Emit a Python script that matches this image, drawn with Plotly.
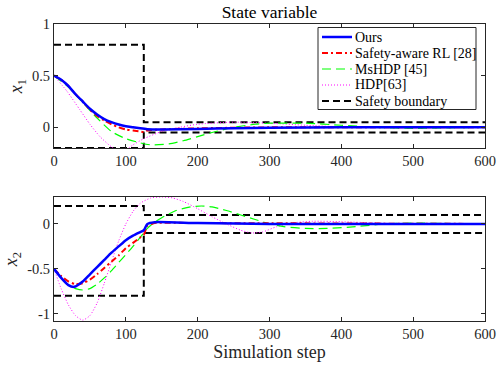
import plotly.graph_objects as go
from plotly.subplots import make_subplots

# --- x1 (top panel) ---
ours_t1 = [0, 10, 20, 30, 40, 50, 60, 70, 80, 90, 100, 110, 120, 130, 150, 200, 250, 300, 400, 600]
ours_x1 = [0.5, 0.46, 0.40, 0.32, 0.25, 0.18, 0.125, 0.08, 0.05, 0.027, 0.01, 0.0, -0.01, -0.018, -0.02, -0.015, -0.01, -0.005, 0.0, 0.0]

rl_t1 = [0, 10, 20, 30, 40, 50, 60, 70, 80, 90, 100, 110, 120, 125, 130, 150, 200, 300, 600]
rl_x1 = [0.5, 0.46, 0.40, 0.32, 0.25, 0.17, 0.11, 0.065, 0.03, 0.0, -0.02, -0.03, -0.04, -0.045, -0.03, -0.02, -0.01, 0.0, 0.0]

ms_t1 = [0, 20, 40, 60, 80, 100, 120, 135, 160, 180, 200, 220, 250, 280, 300, 350, 400, 450, 500, 550, 600]
ms_x1 = [0.5, 0.39, 0.24, 0.09, -0.04, -0.11, -0.15, -0.17, -0.16, -0.13, -0.09, -0.05, 0.0, 0.03, 0.04, 0.04, 0.02, 0.0, -0.01, -0.005, 0.0]

hdp_t1 = [0, 18, 36, 50, 64, 80, 90, 100, 110, 125, 150, 175, 200, 250, 300, 350, 400, 500, 600]
hdp_x1 = [0.5, 0.35, 0.17, 0.03, -0.09, -0.19, -0.23, -0.22, -0.17, -0.11, -0.04, 0.0, 0.03, 0.05, 0.04, 0.02, 0.005, 0.0, 0.0]

# --- x2 (bottom panel) ---
ours_t2 = [0, 10, 20, 28, 40, 50, 60, 70, 80, 90, 100, 110, 120, 125, 130, 140, 200, 300, 600]
ours_x2 = [-0.5, -0.6, -0.68, -0.70, -0.64, -0.56, -0.48, -0.40, -0.32, -0.25, -0.18, -0.13, -0.09, -0.07, 0.0, 0.02, 0.01, 0.0, 0.0]

rl_t2 = [0, 10, 20, 30, 40, 50, 60, 70, 80, 90, 100, 110, 120, 125, 130, 140, 200, 600]
rl_x2 = [-0.5, -0.58, -0.64, -0.67, -0.66, -0.62, -0.56, -0.49, -0.42, -0.35, -0.27, -0.21, -0.15, -0.12, -0.02, 0.01, 0.01, 0.0]

ms_t2 = [0, 10, 20, 30, 40, 50, 60, 70, 80, 90, 100, 110, 120, 130, 140, 150, 170, 190, 205, 220, 240, 260, 280, 300, 320, 350, 380, 420, 460, 500, 550, 600]
ms_x2 = [-0.5, -0.6, -0.68, -0.72, -0.735, -0.72, -0.67, -0.6, -0.52, -0.43, -0.34, -0.25, -0.15, -0.05, 0.02, 0.07, 0.15, 0.19, 0.2, 0.19, 0.15, 0.1, 0.05, 0.0, -0.03, -0.05, -0.05, -0.03, 0.0, 0.01, 0.005, 0.0]

hdp_t2 = [0, 10, 20, 30, 40, 50, 60, 70, 80, 90, 100, 110, 120, 135, 150, 165, 180, 200, 220, 240, 260, 275, 290, 310, 330, 360, 400, 450, 500, 600]
hdp_x2 = [-0.5, -0.72, -0.9, -1.02, -1.07, -1.02, -0.88, -0.66, -0.42, -0.19, 0.0, 0.14, 0.23, 0.29, 0.30, 0.29, 0.25, 0.17, 0.08, 0.0, -0.07, -0.1, -0.09, -0.03, 0.01, 0.03, 0.025, 0.01, 0.0, 0.0]

# --- safety boundaries ---
bound_t = [0, 125, 125, 600]
x1_upper = [0.8, 0.8, 0.05, 0.05]
x1_lower = [-0.2, -0.2, -0.05, -0.05]
x2_upper = [0.2, 0.2, 0.1, 0.1]
x2_lower = [-0.8, -0.8, -0.1, -0.1]

legend_names = ["Ours", "Safety-aware RL [28]", "MsHDP [45]", "HDP[63]", "Safety boundary"]

FONT = "Liberation Serif"
AX = "#262626"
W, H = 499, 365
ML, MR, MT, MB = 54, 14, 24, 44

line_styles = [
    dict(color="#0000FF", width=2.5),
    dict(color="#FF0000", width=2, dash="6px,3px,2px,3px"),
    dict(color="#00FF00", width=1.2, dash="9px,5px"),
    dict(color="#FF00FF", width=1, dash="1px,2px"),
]
bound_style = dict(color="black", width=2, dash="7px,4px")

fig = make_subplots(rows=2, cols=1, vertical_spacing=0.165)

panels = [
    (1, [(ours_t1, ours_x1), (rl_t1, rl_x1), (ms_t1, ms_x1), (hdp_t1, hdp_x1)], x1_upper, x1_lower),
    (2, [(ours_t2, ours_x2), (rl_t2, rl_x2), (ms_t2, ms_x2), (hdp_t2, hdp_x2)], x2_upper, x2_lower),
]

for row, series, up, lo in panels:
    fig.add_trace(go.Scatter(x=bound_t, y=up, mode="lines", name=legend_names[4], line=bound_style), row=row, col=1)
    fig.add_trace(go.Scatter(x=bound_t, y=lo, mode="lines", name=legend_names[4], line=bound_style), row=row, col=1)
    # draw in reverse so "Ours" ends on top
    for (t, v), name, st in reversed(list(zip(series, legend_names, line_styles))):
        fig.add_trace(go.Scatter(x=t, y=v, mode="lines", name=name,
                                 line=dict(shape="spline", smoothing=0.6, **st)), row=row, col=1)


def px_x(p):
    return (p - ML) / (W - ML - MR)


def px_y(p):
    return (H - MB - p) / (H - MT - MB)


# legend drawn by hand (MATLAB packs entries tighter than plotly's legend allows)
fig.add_shape(type="rect", xref="paper", yref="paper",
              x0=px_x(318), x1=px_x(476), y0=px_y(109.5), y1=px_y(27.5),
              line=dict(color=AX, width=1), fillcolor="white", layer="above")
entry_y = [37, 53, 69, 85, 101]
for name, st, yy in zip(legend_names, line_styles + [bound_style], entry_y):
    fig.add_shape(type="line", xref="paper", yref="paper",
                  x0=px_x(322), x1=px_x(352), y0=px_y(yy), y1=px_y(yy),
                  line=st, layer="above")
    fig.add_annotation(text=name, xref="paper", yref="paper", x=px_x(353), y=px_y(yy),
                       xanchor="left", yanchor="middle", showarrow=False,
                       font=dict(family=FONT, size=14, color="black"))

axis_common = dict(showline=True, linecolor=AX, linewidth=1, mirror="ticks",
                   ticks="inside", ticklen=4, tickcolor=AX, showgrid=False,
                   zeroline=False, automargin=False,
                   tickfont=dict(family=FONT, size=14.5, color=AX))

fig.update_xaxes(range=[0, 600], dtick=100, **axis_common)
fig.update_xaxes(title=dict(text="Simulation step", font=dict(family=FONT, size=18, color=AX), standoff=0), row=2, col=1)
fig.update_yaxes(**axis_common)
fig.update_yaxes(range=[-0.2, 1], tickvals=[0, 0.5, 1], ticktext=["0", "0.5", "1"],
                 title=dict(text="<i>x</i><sub>1</sub>", font=dict(family=FONT, size=18, color=AX), standoff=4),
                 row=1, col=1)
fig.update_yaxes(range=[-1.08, 0.3], tickvals=[-1, -0.5, 0], ticktext=["-1", "-0.5", "0"],
                 title=dict(text="<i>x</i><sub>2</sub>", font=dict(family=FONT, size=18, color=AX), standoff=4),
                 row=2, col=1)

fig.update_layout(
    width=W, height=H,
    margin=dict(l=ML, r=MR, t=MT, b=MB, autoexpand=False),
    paper_bgcolor="white", plot_bgcolor="white",
    title=dict(text="State variable", xref="paper", x=0.5, xanchor="center",
               yref="container", y=1 - 12 / H, yanchor="middle",
               font=dict(family=FONT, size=17.5, color="black")),
    showlegend=False,
)

# the page's default 8px body margin would shift the figure out of the window
fig.write_html("out.html", config={"displayModeBar": False},
               post_script="document.body.style.margin='0';")
